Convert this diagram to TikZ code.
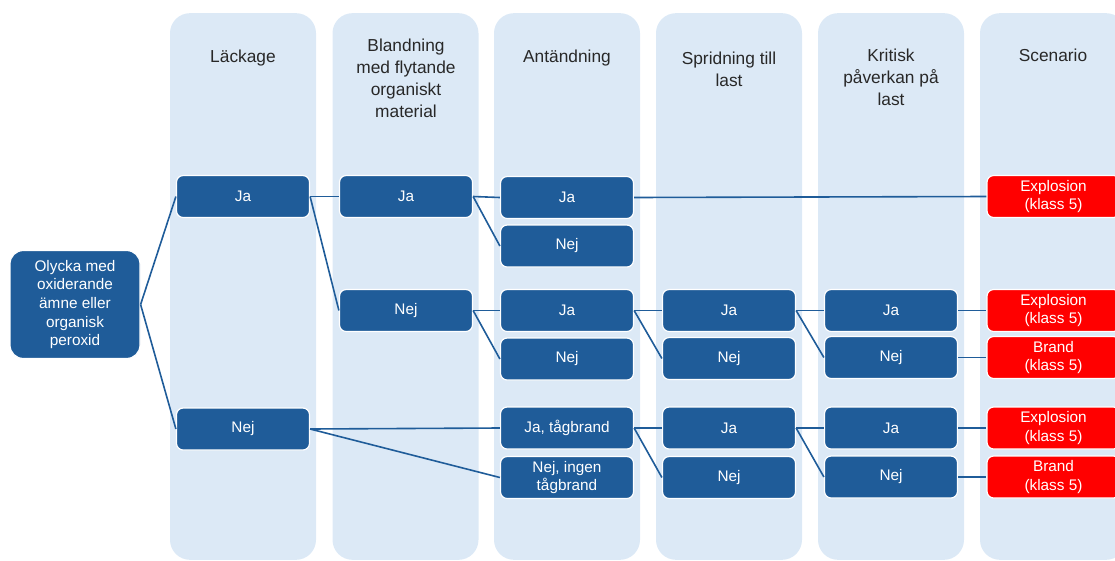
\documentclass[tikz,border=0pt]{standalone}
\usepackage{fontspec}
\setmainfont{Liberation Sans}
\definecolor{lanefill}{RGB}{220,233,246}
\definecolor{boxblue}{RGB}{31,92,153}
\definecolor{headgray}{RGB}{40,40,40}
\definecolor{scenred}{RGB}{255,0,0}
\begin{document}
\begin{tikzpicture}[x=0.75pt,y=-0.75pt,
  lane/.style={fill=lanefill,rounded corners=15pt,minimum width=109.5pt,minimum height=410pt,inner sep=0pt},
  hdr/.style={align=center,text=headgray,font=\fontsize{13}{16.5}\selectfont},
  opt/.style={draw=white,line width=0.9pt,fill=boxblue,text=white,rounded corners=5pt,minimum width=99.75pt,minimum height=31.5pt,align=center,inner sep=1pt,font=\fontsize{11.5}{13.9}\selectfont},
  scen/.style={opt,fill=scenred},
  link/.style={draw=boxblue,line width=1.2pt}]
\useasboundingbox (0,0) rectangle (1115,561);
\clip (0,0) rectangle (1115,561);
% lanes
\node[lane] (laneA) at (243,286.5) {};
\node[lane] (laneB) at (405.5,286.5) {};
\node[lane] (laneC) at (567,286.5) {};
\node[lane] (laneD) at (729,286.5) {};
\node[lane] (laneE) at (891,286.5) {};
\node[lane] (laneF) at (1053,286.5) {};
% headers
\node[hdr] (hA) at (243,58.5) {Läckage};
\node[hdr] (hB) at (406,78) {Blandning\\med flytande\\organiskt\\material};
\node[hdr] (hC) at (567,58.5) {Antändning};
\node[hdr] (hD) at (729,69) {Spridning till\\last};
\node[hdr] (hE) at (891,77.5) {Kritisk\\påverkan på\\last};
\node[hdr] (hF) at (1053,55.5) {Scenario};
% start
\node[opt,minimum width=97.5pt,minimum height=81pt,rounded corners=10pt] (start) at (75,304.5) {Olycka med\\oxiderande\\ämne eller\\organisk\\peroxid};
% leakage
\node[opt] (leakja) at (243,196.5) {Ja};
\node[opt] (leaknej) at (243,429) {Nej};
% mixing
\node[opt] (mixja) at (406,196.5) {Ja};
\node[opt] (mixnej) at (406,310.5) {Nej};
% ignition
\node[opt] (ignja) at (567,197.5) {Ja};
\node[opt] (ignnej) at (567,246) {Nej};
\node[opt] (ignjab) at (567,310.5) {Ja};
\node[opt] (ignnejb) at (567,359) {Nej};
\node[opt] (train) at (567,428) {Ja, tågbrand};
\node[opt] (notrain) at (567,477.5) {Nej, ingen\\tågbrand};
% spread
\node[opt] (sprja) at (729,310.5) {Ja};
\node[opt] (sprnej) at (729,358.5) {Nej};
\node[opt] (sprjab) at (729,428) {Ja};
\node[opt] (sprnejb) at (729,477.5) {Nej};
% critical impact
\node[opt] (critja) at (891,310.5) {Ja};
\node[opt] (critnej) at (891,357.5) {Nej};
\node[opt] (critjab) at (891,428) {Ja};
\node[opt] (critnejb) at (891,477) {Nej};
% scenarios
\node[scen] (expl) at (1053.5,196.5) {Explosion\\(klass 5)};
\node[scen] (explb) at (1053.5,310.5) {Explosion\\(klass 5)};
\node[scen] (fire) at (1053.5,357.5) {Brand\\(klass 5)};
\node[scen] (explc) at (1053.5,428) {Explosion\\(klass 5)};
\node[scen] (fireb) at (1053.5,477) {Brand\\(klass 5)};
% connectors
\draw[link] (start.east)--(leakja.west);
\draw[link] (start.east)--(leaknej.west);
\draw[link] (leakja.east)--(mixja.west);
\draw[link] (leakja.east)--(mixnej.west);
\draw[link] (mixja.east)--(ignja.west);
\draw[link] (mixja.east)--(ignnej.west);
\draw[link] (ignja.east)--(expl.west);
\draw[link] (mixnej.east)--(ignjab.west);
\draw[link] (mixnej.east)--(ignnejb.west);
\draw[link] (ignjab.east)--(sprja.west);
\draw[link] (ignjab.east)--(sprnej.west);
\draw[link] (sprja.east)--(critja.west);
\draw[link] (sprja.east)--(critnej.west);
\draw[link] (critja.east)--(explb.west);
\draw[link] (critnej.east)--(fire.west);
\draw[link] (leaknej.east)--(train.west);
\draw[link] (leaknej.east)--(notrain.west);
\draw[link] (train.east)--(sprjab.west);
\draw[link] (train.east)--(sprnejb.west);
\draw[link] (sprjab.east)--(critjab.west);
\draw[link] (sprjab.east)--(critnejb.west);
\draw[link] (critjab.east)--(explc.west);
\draw[link] (critnejb.east)--(fireb.west);
\end{tikzpicture}
\end{document}
